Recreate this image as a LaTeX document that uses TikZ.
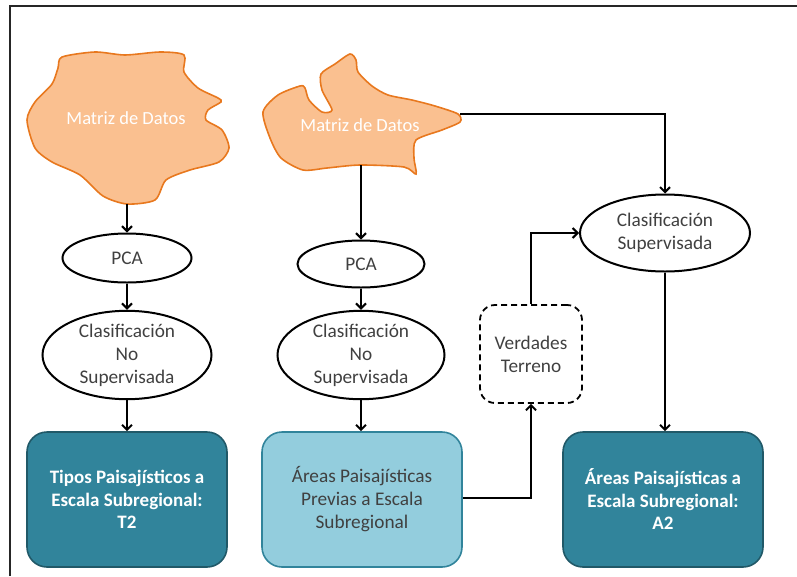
\documentclass[tikz,border=0pt]{standalone}
\usepackage{fontspec}
\setmainfont{Carlito}
\usetikzlibrary{shapes.geometric,arrows.meta}
\definecolor{blobfill}{HTML}{FAC090}
\definecolor{blobline}{HTML}{E8781E}
\definecolor{darkfill}{HTML}{31849B}
\definecolor{darkline}{HTML}{215968}
\definecolor{lightfill}{HTML}{93CDDD}
\definecolor{lightline}{HTML}{31849B}
\definecolor{txtgray}{HTML}{404040}
\tikzset{
  conn/.style={line width=2pt, -{Straight Barb[length=5pt,width=10pt]}},
  oval/.style={ellipse, draw, line width=2pt, inner sep=0pt, align=center,
    text=txtgray, font=\fontsize{19.3}{23}\selectfont},
  darkbox/.style={draw=darkline, fill=darkfill, line width=1.6pt, rounded corners=20pt,
    minimum width=200pt, minimum height=135pt, align=center, text=white,
    font=\fontsize{19}{22.5}\selectfont\bfseries},
  lightbox/.style={draw=lightline, fill=lightfill, line width=1.6pt, rounded corners=20pt,
    minimum width=200pt, minimum height=135pt, align=center, text=txtgray,
    font=\fontsize{19.3}{23}\selectfont},
  dashbox/.style={draw, dash pattern=on 6pt off 4pt, line width=1.8pt, rounded corners=15pt,
    minimum width=102pt, minimum height=98pt, align=center, text=txtgray,
    font=\fontsize{19.3}{23}\selectfont},
  blob/.style={draw=blobline, fill=blobfill, line width=1.6pt},
  blobtext/.style={text=white, font=\fontsize{18.5}{22}\selectfont},
}
\begin{document}
\begin{tikzpicture}[x=1pt,y=-1pt]
\useasboundingbox (0,0) rectangle (797,576);
% frame
\draw[line width=1.3pt, color=black!85] (10,576) -- (10,6) -- (797,6);

% left blob
\draw[blob] plot[smooth cycle, tension=0.45] coordinates {
 (62,57) (95,52) (125,55) (160,52) (184,55) (184,72) (198,88) (218,98)
 (221,102) (208,110) (206,120) (222,130) (229,148) (219,162) (190,170)
 (166,180) (155,200) (127,204) (103,196) (80,175) (52,162) (35,148)
 (27,120) (35,102) (52,84) (58,68)};
\node[blobtext] (m1) at (126,118) {Matriz de Datos};
\coordinate (b1s) at (127,204);

% middle blob
\draw[blob] plot[smooth cycle, tension=0.45] coordinates {
 (263,112) (278,95) (300,86) (305,88) (309,100) (322,112) (332,110)
 (322,90) (321,74) (335,64) (350,54) (356,60) (358,72) (372,86) (388,95)
 (412,100) (435,106) (458,114) (460,122) (442,130) (416,140) (414,158)
 (416,174) (404,167) (360,165) (327,168) (303,170) (281,158) (270,138)};
\node[blobtext] (m2) at (360,125) {Matriz de Datos};
\coordinate (b2s) at (361,165);
\coordinate (b2e) at (460,114);

% left column
\node[oval, minimum width=129pt, minimum height=49pt] (pca1) at (127,258) {PCA};
\node[oval, minimum width=169pt, minimum height=85pt] (cl1) at (127,355)
  {Clasificación\\No\\Supervisada};
\node[darkbox] (t2) at (127,499.5) {Tipos Paisajísticos a\\Escala Subregional:\\T2};

% middle column
\node[oval, minimum width=127pt, minimum height=47pt] (pca2) at (361,264) {PCA};
\node[oval, minimum width=167pt, minimum height=85pt] (cl2) at (361,355)
  {Clasificación\\No\\Supervisada};
\node[lightbox] (ap) at (362,499.5) {Áreas Paisajísticas\\Previas a Escala\\Subregional};

% right part
\node[dashbox] (vt) at (531,354) {Verdades\\Terreno};
\node[oval, minimum width=170pt, minimum height=77pt] (cs) at (665,233)
  {Clasificación\\Supervisada};
\node[darkbox] (a2) at (663,499.5) {Áreas Paisajísticas a\\Escala Subregional:\\A2};

% connectors
\draw[conn] (b1s) -- (pca1.north);
\draw[conn] (pca1.south) -- (cl1.north);
\draw[conn] (cl1.south) -- (t2.north);
\draw[conn] (b2s) -- (pca2.north);
\draw[conn] (pca2.south) -- (cl2.north);
\draw[conn] (cl2.south) -- (cl2.south |- ap.north);
\draw[conn] (b2e) -| (cs.north);
\draw[conn] (ap.east |- 0,498) -| (vt.south);
\draw[conn] (vt.north) |- (cs.west);
\draw[conn] (cs.south) -- (cs.south |- a2.north);
\end{tikzpicture}
\end{document}
